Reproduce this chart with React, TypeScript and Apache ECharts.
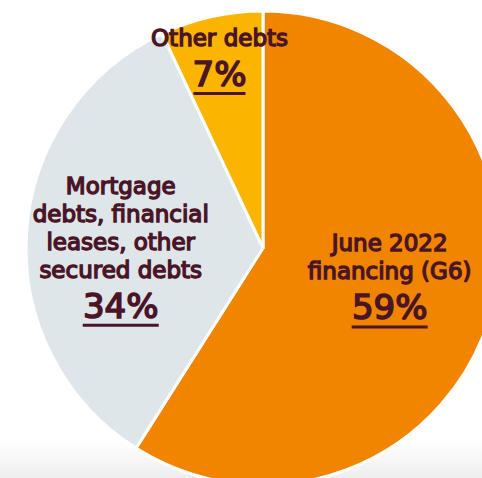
import React, { useEffect, useRef } from "react";
import * as echarts from "echarts";

const categories = ["June 2022\nfinancing (G6)", "Mortgage\ndebts, financial\nleases, other\nsecured debts", "Other debts"];
const values = [59, 34, 7];
const colors = ["#F28500", "#DFE6EA", "#FBB400"];
const underlineWidths = [76, 76, 52];
const labelOffsets = [
  [10, -3],
  [-21, 9],
  [-17, -70],
];

const TEXT = "#4A1526";
const FONT = "'DejaVu Sans', sans-serif";

export default function App() {
  const ref = useRef<HTMLDivElement>(null);
  useEffect(() => {
    if (!ref.current) return;
    const chart = echarts.init(ref.current, null, { renderer: "svg" });
    const data = values.map((v, i) => ({
      value: v,
      name: categories[i],
      itemStyle: { color: colors[i] },
      label: {
        formatter: () => {
          const title = categories[i]
            .split("\n")
            .map((l) => `{t|${l}}`)
            .join("\n");
          return `${title}\n{p|${v}%}\n{u${i}| }`;
        },
      },
    }));
    const rich: any = {
      t: {
        fontFamily: FONT,
        fontWeight: "normal",
        fontSize: 23,
        lineHeight: 28,
        color: TEXT,
        textBorderColor: TEXT,
        textBorderWidth: 1.4,
      },
      p: {
        fontFamily: FONT,
        fontWeight: "normal",
        fontSize: 34,
        lineHeight: 40,
        color: TEXT,
        textBorderColor: TEXT,
        textBorderWidth: 1.6,
        padding: [4, 0, 0, 0],
      },
    };
    underlineWidths.forEach((w, i) => {
      rich["u" + i] = { width: w, height: 3, lineHeight: 3, fontSize: 1, backgroundColor: TEXT };
    });
    chart.setOption({
      animation: false,
      backgroundColor: "#ffffff",
      graphic: [
        {
          type: "rect",
          z: 0,
          shape: { x: 0, y: 440, width: 482, height: 38 },
          style: {
            fill: {
              type: "linear",
              x: 0,
              y: 0,
              x2: 0,
              y2: 1,
              colorStops: [
                { offset: 0, color: "rgba(240,240,240,0)" },
                { offset: 1, color: "rgba(238,238,238,1)" },
              ],
            },
          },
        },
      ],
      series: [
        {
          type: "pie",
          z: 2,
          center: [263, 248],
          radius: [0, 237],
          startAngle: 90,
          clockwise: true,
          data,
          itemStyle: { borderColor: "#ffffff", borderWidth: 3 },
          label: {
            show: true,
            position: "inside",
            align: "center",
            rich,
          },
          labelLine: { show: false },
          labelLayout: (params: any) => {
            const o = labelOffsets[params.dataIndex];
            return { dx: o[0], dy: o[1] };
          },
          emphasis: { disabled: true },
        },
      ],
    });
    return () => chart.dispose();
  }, []);
  return (
    <div
      ref={ref}
      style={{ position: "fixed", left: 0, top: 0, width: 482, height: 478 }}
    />
  );
}
